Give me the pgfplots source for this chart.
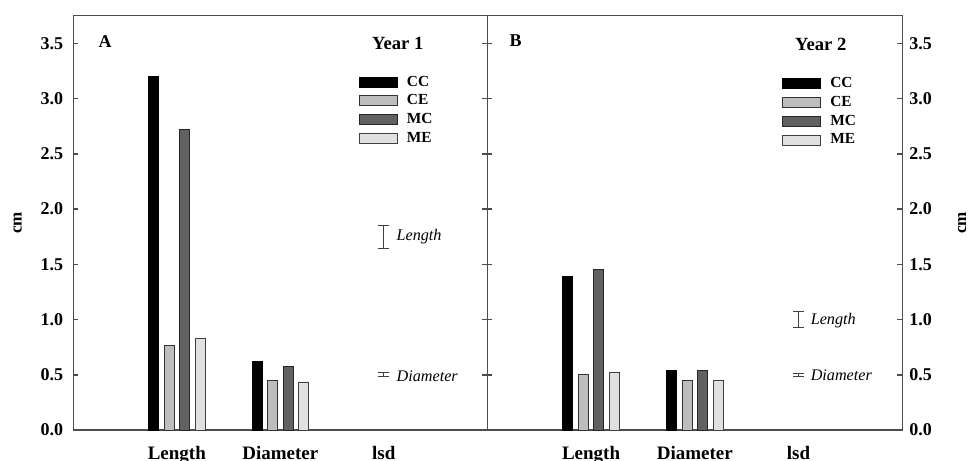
\documentclass[border=0pt]{standalone}
\usepackage{pgfplots}
\pgfplotsset{compat=1.18}
\usepackage{fontspec}
\setmainfont{Liberation Serif}
\begin{document}
\begin{tikzpicture}
\pgfplotsset{
  sq legend/.style={legend image code/.code={\draw[##1] (0pt,-1.7pt) rectangle (19pt,3.3pt);}},
  panel/.style={
    scale only axis, height=207.2pt,
    xmin=0, xmax=4, ymin=0, ymax=3.75,
    xtick={1,2,3}, xticklabels={Length,Diameter,lsd},
    ytick={0,0.5,1,1.5,2,2.5,3,3.5},
    axis line style={draw=black!70, line width=0.75pt},
    every tick/.style={draw=black!70, line width=0.7pt},
    major tick length=2.5pt,
    tick align=inside,
    xtick style={draw=none},
    xticklabel style={font=\bfseries\fontsize{9.5}{10}\selectfont, yshift=-4.6pt},
    yticklabel style={font=\bfseries\fontsize{9}{9}\selectfont},
    /pgf/number format/fixed, /pgf/number format/fixed zerofill,
    /pgf/number format/precision=1, /pgf/number format/assume math mode=true,
    legend cell align=left,
    legend style={draw=none, fill=none, inner sep=0pt, outer sep=0pt, anchor=north west,
      font=\bfseries\fontsize{7.7}{8}\selectfont, row sep=0pt,
      nodes={inner sep=0pt, text height=5.8pt, text depth=3.55pt},
      /tikz/every odd column/.append style={column sep=4.5pt}},
    ylabel={cm},
  },
  cc/.style={ybar, bar width=5pt, bar shift=-11.625pt, fill=black, draw=black, line width=0.5pt, sq legend},
  ce/.style={ybar, bar width=5pt, bar shift=-3.875pt, fill=black!26, draw=black!80, line width=0.5pt, sq legend},
  mc/.style={ybar, bar width=5pt, bar shift=3.875pt, fill=black!62, draw=black!85, line width=0.5pt, sq legend},
  me/.style={ybar, bar width=5pt, bar shift=11.625pt, fill=black!12, draw=black!75, line width=0.5pt, sq legend},
  lsd/.style={draw=black!75, line width=0.6pt, mark=-, mark size=2.7pt,
    mark options={draw=black!75, line width=0.6pt}, forget plot},
}
% ---------------- Panel A ----------------
\begin{axis}[panel, width=207pt, at={(0pt,0pt)}, anchor=south west,
  yticklabel pos=left,
  yticklabel style={xshift=-1.5pt},
  every axis y label/.style={at={(axis description cs:0,0.5)}, anchor=center, rotate=90, yshift=27.75pt,
    font=\bfseries\fontsize{8.5}{9}\selectfont},
  legend style={at={(rel axis cs:0.69,0.858)}},
]
\addplot[cc] coordinates {(1,3.20) (2,0.62)};
\addplot[ce] coordinates {(1,0.77) (2,0.45)};
\addplot[mc] coordinates {(1,2.72) (2,0.58)};
\addplot[me] coordinates {(1,0.83) (2,0.43)};
\legend{CC,CE,MC,ME}
\addplot[lsd] coordinates {(3,1.645) (3,1.855)};
\addplot[lsd] coordinates {(3,0.482) (3,0.518)};
\node[anchor=west, inner sep=0pt, xshift=6.2pt, font=\itshape\fontsize{8.1}{9}\selectfont] at (axis cs:3,1.75) {Length};
\node[anchor=west, inner sep=0pt, xshift=6.2pt, font=\itshape\fontsize{8.1}{9}\selectfont] at (axis cs:3,0.49) {Diameter};
\node[font=\bfseries\fontsize{9}{9}\selectfont] at (axis cs:0.307,3.52) {A};
\node[font=\bfseries\fontsize{9.3}{10}\selectfont] at (axis cs:3.135,3.5) {Year 1};
\end{axis}
% ---------------- Panel B ----------------
\begin{axis}[panel, width=207.5pt, at={(207pt,0pt)}, anchor=south west,
  yticklabel pos=right,
  every axis y label/.style={at={(axis description cs:1,0.5)}, anchor=center, rotate=90, yshift=-30pt,
    font=\bfseries\fontsize{8.5}{9}\selectfont},
  legend style={at={(rel axis cs:0.711,0.854)}},
]
\addplot[cc] coordinates {(1,1.39) (2,0.54)};
\addplot[ce] coordinates {(1,0.50) (2,0.45)};
\addplot[mc] coordinates {(1,1.45) (2,0.54)};
\addplot[me] coordinates {(1,0.52) (2,0.45)};
\legend{CC,CE,MC,ME}
\addplot[lsd] coordinates {(3,0.928) (3,1.072)};
\addplot[lsd] coordinates {(3,0.485) (3,0.515)};
\node[anchor=west, inner sep=0pt, xshift=5.9pt, font=\itshape\fontsize{8.1}{9}\selectfont] at (axis cs:3,0.99) {Length};
\node[anchor=west, inner sep=0pt, xshift=5.9pt, font=\itshape\fontsize{8.1}{9}\selectfont] at (axis cs:3,0.5) {Diameter};
\node[font=\bfseries\fontsize{9}{9}\selectfont] at (axis cs:0.274,3.52) {B};
\node[font=\bfseries\fontsize{9.3}{10}\selectfont] at (axis cs:3.214,3.49) {Year 2};
\end{axis}
\pgfresetboundingbox
\path[use as bounding box] (-36.65pt,-15pt) rectangle (447.85pt,215.05pt);
\end{tikzpicture}
\end{document}
